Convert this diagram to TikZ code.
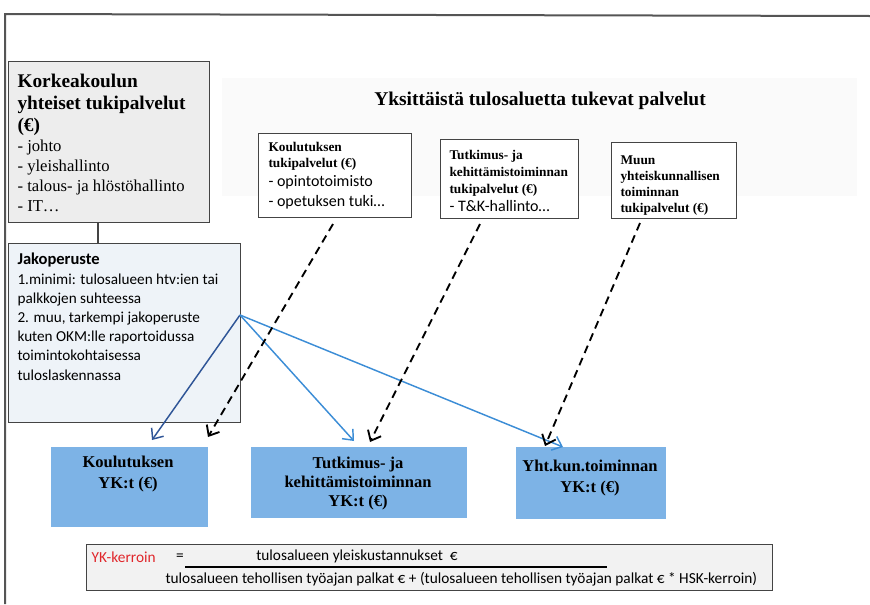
\documentclass[tikz,border=0pt]{standalone}
\usepackage{fontspec}
\setmainfont{Liberation Serif}
\newfontfamily\calibri{Carlito}
\usetikzlibrary{arrows.meta}

\newlength{\pxl}
\setlength{\pxl}{0.75pt}

\definecolor{boxline}{HTML}{444444}
\definecolor{frameline}{HTML}{555555}
\definecolor{kkgray}{HTML}{EDEDED}
\definecolor{jakofill}{HTML}{EEF3F8}
\definecolor{ykblue}{HTML}{7DB3E6}
\definecolor{darkarrow}{HTML}{2F5597}
\definecolor{lightarrow}{HTML}{3C8DD6}
\definecolor{ykred}{HTML}{E0262B}

\begin{document}
\begin{tikzpicture}[thick, x=0.75pt, y=-0.75pt]

    \tikzset{box/.style={%
      draw=boxline,%
      line width=1.1pt,%
      rectangle,%
      anchor=north west,%
      inner sep=0pt}%
    };

    \tikzset{graybox/.style={box, fill=kkgray}};
    \tikzset{bluebox/.style={box, draw=none, fill=ykblue}};
    % text nodes sit on the baseline of their last line
    \tikzset{txt/.style={anchor=base west, inner sep=0pt, align=left}};
    \tikzset{smallhead/.style={txt, font=\bfseries\fontsize{10}{12}\selectfont}};
    \tikzset{smalllist/.style={txt, font=\calibri\fontsize{12}{14.3}\selectfont}};
    \tikzset{yktxt/.style={anchor=north, inner sep=0pt, align=center,
      font=\bfseries\fontsize{12.4}{16}\selectfont}};
    \tikzset{solidarrow/.style={-{Straight Barb[length=6.5pt,width=11pt]}, line width=1.1pt}};
    \tikzset{dasharrow/.style={-{Straight Barb[length=6.5pt,width=11pt]}, line width=1.4pt,
      dash pattern=on 6pt off 4pt}};

    \useasboundingbox (0,0) rectangle (870,604);

    %%%%%%%%%%%%%%%%%%%%
    % frame, backdrop  %
    %%%%%%%%%%%%%%%%%%%%
    \draw [frameline, line width=1.5pt] (870,16) -- (5,14) -- (5,604);
    \fill [black!2] (222,78) rectangle (857,196);

    %%%%%%%%%%%%%%%%%%%%%%
    % common services    %
    %%%%%%%%%%%%%%%%%%%%%%
    \node [graybox, minimum width=201\pxl, minimum height=161\pxl] (kk) at (8,61) {};
    \node [txt, font=\bfseries\fontsize{14.5}{16.5}\selectfont] (kkhead) at (17,131)
      {Korkeakoulun\\ yhteiset tukipalvelut\\ (€)};
    \node [txt, font=\fontsize{12.5}{15}\selectfont] (kklist) at (17,211)
      {- johto\\ - yleishallinto\\ - talous- ja hlöstöhallinto\\ - IT…};

    \node [box, fill=jakofill, minimum width=232\pxl, minimum height=179\pxl] (jako) at (8,243) {};
    \node [txt, font=\calibri\bfseries\fontsize{12.4}{14.3}\selectfont] (jakohead) at (17,264)
      {Jakoperuste};
    \node [txt, font=\calibri\fontsize{11.4}{14.3}\selectfont] (jakolist) at (17,380)
      {1.minimi: tulosalueen htv:ien tai\\ palkkojen suhteessa\\
      2. muu, tarkempi jakoperuste\\ kuten OKM:lle raportoidussa\\
      toimintokohtaisessa\\ tuloslaskennassa};

    \draw [boxline, line width=1.1pt] (kk.south west -| 98,0) -- (jako.north west -| 98,0);

    %%%%%%%%%%%%%%%%%%%%%%%
    % single area support %
    %%%%%%%%%%%%%%%%%%%%%%%
    \node [font=\bfseries\fontsize{14.6}{17}\selectfont] (header) at (540,101)
      {Yksittäistä tulosaluetta tukevat palvelut};

    \node [box, fill=white, minimum width=153\pxl, minimum height=84\pxl] (ktp) at (258,133) {};
    \node [smallhead] (ktphead) at (268,167) {Koulutuksen\\ tukipalvelut (€)};
    \node [smalllist] (ktplist) at (268,206) {- opintotoimisto\\ - opetuksen tuki…};

    \node [box, fill=white, minimum width=138\pxl, minimum height=79\pxl] (ttp) at (440,139) {};
    \node [smallhead, font=\bfseries\fontsize{10}{12.6}\selectfont] (ttphead) at (449,193)
      {Tutkimus- ja\\ kehittämistoiminnan\\ tukipalvelut (€)};
    \node [smalllist] (ttplist) at (449,211) {- T\&K-hallinto…};

    \node [box, fill=white, minimum width=125\pxl, minimum height=76\pxl] (mtp) at (611,142) {};
    \node [smallhead] (mtphead) at (620,212)
      {Muun\\ yhteiskunnallisen\\ toiminnan\\ tukipalvelut (€)};

    %%%%%%%%%%%%%%%%
    % YK per area  %
    %%%%%%%%%%%%%%%%
    \node [bluebox, minimum width=157\pxl, minimum height=80\pxl] (kyk) at (50,446) {};
    \node [yktxt] (kyktext) at (128,455) {Koulutuksen\\ YK:t (€)};

    \node [bluebox, minimum width=216\pxl, minimum height=71\pxl] (tyk) at (250,446) {};
    \node [yktxt, font=\bfseries\fontsize{12.4}{14.3}\selectfont] (tyktext) at (358,456)
      {Tutkimus- ja\\ kehittämistoiminnan\\ YK:t (€)};

    \node [bluebox, minimum width=150\pxl, minimum height=72\pxl] (yyk) at (515,446) {};
    \node [yktxt] (yyktext) at (590,459) {Yht.kun.toiminnan\\ YK:t (€)};

    %%%%%%%%%%%%
    % arrows   %
    %%%%%%%%%%%%
    \coordinate (jakoout) at (240,315);
    \coordinate (kykin) at (152,440);
    \coordinate (tykin) at (354,441);
    \coordinate (yykin) at (563,447);

    \draw [solidarrow, darkarrow] (jakoout) -- (kykin);
    \draw [solidarrow, lightarrow] (jakoout) -- (tykin);
    \draw [solidarrow, lightarrow] (jakoout) -- (yykin);

    \coordinate (ktpout) at (333,224);
    \coordinate (ttpout) at (480,224);
    \coordinate (mtpout) at (640,223);
    \coordinate (kykdash) at (208,437);
    \coordinate (tykdash) at (370,442);
    \coordinate (yykdash) at (545,446);

    \draw [dasharrow] (ktpout) -- (kykdash);
    \draw [dasharrow] (ttpout) -- (tykdash);
    \draw [dasharrow] (mtpout) -- (yykdash);

    %%%%%%%%%%%%%
    % formula   %
    %%%%%%%%%%%%%
    \node [box, fill=black!5, minimum width=686\pxl, minimum height=46\pxl] (formula) at (86,544) {};
    \begin{scope}[every node/.style={inner sep=0pt, font=\calibri\fontsize{11.5}{13}\selectfont}]
      \node [anchor=west, text=ykred] (ykk) at (91,557) {YK-kerroin};
      \node (eq) at (180,557) {=};
      \node (numer) at (357,556) {tulosalueen yleiskustannukset~~€};
      \node [anchor=west] (denom) at (165,579)
        {tulosalueen tehollisen työajan palkat € + (tulosalueen tehollisen työajan palkat € * HSK-kerroin)};
    \end{scope}
    \draw [black, line width=0.8pt] (185,567) -- (607,567);

  \end{tikzpicture}
\end{document}
